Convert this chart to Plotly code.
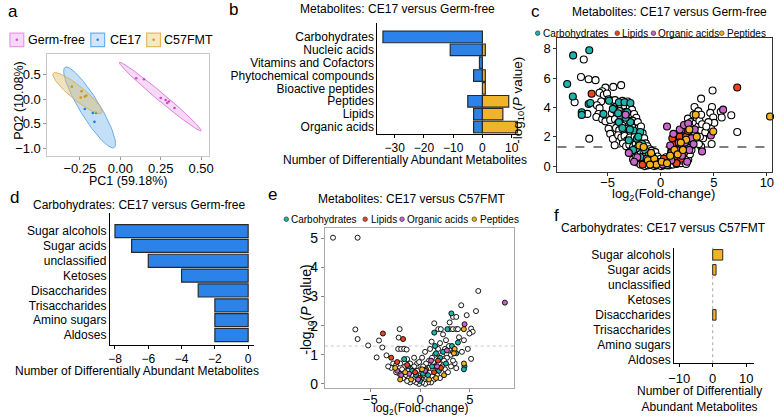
import numpy as np
import plotly.graph_objects as go

W, H = 780, 420
def fx(p): return p / W
def fy(p): return 1 - p / H

FONT = "Liberation Sans, Arial, sans-serif"

# ---------------- Panel a: PCA ----------------
gf_pc1 = [0.098, 0.146, 0.25, 0.28, 0.30, 0.29, 0.335]
gf_pc2 = [0.42, 0.40, 0.02, -0.02, -0.05, -0.08, -0.18]
ce_pc1 = [-0.22, -0.17, -0.15, -0.16]
ce_pc2 = [-0.20, -0.28, -0.28, -0.46]
fmt_pc1 = [-0.30, -0.24, -0.22, -0.245, -0.21]
fmt_pc2 = [0.25, 0.16, 0.05, 0.03, 0.07]
# confidence ellipses: centre x, centre y, major half-vector (x, y), minor half-vector (x, y)
ell_gf = [0.247, 0.05, 0.253, -0.69, -0.0156, -0.062]
ell_ce = [-0.19, -0.17, 0.152, -0.81, -0.052, -0.105]
ell_fmt = [-0.265, 0.12, 0.15, -0.40, -0.027, -0.108]
pca_groups = ["Germ-free", "CE17", "C57FMT"]

# ---------------- Panel b ----------------
b_categories = ["Carbohydrates", "Nucleic acids", "Vitamins and Cofactors",
                "Phytochemical compounds", "Bioactive peptides", "Peptides",
                "Lipids", "Organic acids"]
b_down = [-34, -11, -1, -3, 0, -5, -3, -3]
b_up = [0, 1, 0, 1, 1, 9, 7, 12]

# ---------------- Panel d / f ----------------
carb_categories = ["Sugar alcohols", "Sugar acids", "unclassified", "Ketoses",
                   "Disaccharides", "Trisaccharides", "Amino sugars", "Aldoses"]
d_values = [-8, -7, -6, -4, -3, -2, -2, -2]
f_values = [3, 1, 0, 0, 1, 0, 0, 0]

# ---------------- Panel c volcano (log2FC, -log10 P) ----------------
c_other = [(-7.24,7.27),(-7.5,6.08),(-6.78,5.92),(-6.13,5.86),(-8.1,4.35),(-6.9,3.56),(-6.72,1.87),
 (-5.2,5.35),(-5.5,5.1),(-5.75,5.0),(-5.35,4.85),(-5.05,4.95),(-4.46,5.4),(-3.72,5.52),(-4.9,4.55),
 (-5.6,4.4),(-6.0,4.15),(-5.75,3.95),(-5.85,3.55),(-6.05,3.35),(-5.5,3.2),(-5.2,3.05),(-4.9,2.55),
 (-4.75,2.2),(-4.5,1.85),(-4.33,1.42),(-4.6,3.6),(-4.75,3.15),
 (-4.55,4.45),(-4.3,4.5),(-4.1,4.1),(-3.85,4.25),(-3.6,4.45),(-3.35,4.1),(-3.1,4.4),(-2.9,4.05),
 (-2.7,3.85),(-4.35,3.85),(-4.1,3.5),(-3.85,3.75),(-3.55,3.6),(-3.25,3.7),(-3.0,3.35),(-2.75,3.5),
 (-2.5,3.55),(-2.3,3.3),(-4.3,3.2),(-4.05,2.9),(-3.75,3.05),(-3.45,2.95),(-3.2,3.1),(-2.95,2.8),
 (-2.65,3.1),(-2.4,2.85),(-2.15,3.0),(-4.2,2.6),(-3.9,2.45),(-3.6,2.75),(-3.35,2.4),(-3.1,2.55),
 (-2.85,2.3),(-2.6,2.6),(-2.35,2.4),(-2.05,2.6),(-1.85,2.7),(-4.0,2.1),(-3.7,1.95),(-3.4,2.05),
 (-3.15,1.75),(-2.9,1.95),(-2.7,1.7),(-2.45,2.0),(-2.2,1.8),(-1.95,2.05),(-1.7,2.25),(-3.55,1.55),
 (-3.25,1.35),(-2.95,1.45),(-2.6,1.3),(-2.35,1.5),(-2.05,1.6),(-1.8,1.75),(-1.55,1.9),(-1.4,1.55),
 (-2.85,1.0),(-2.55,0.85),(-2.3,1.05),(-2.0,1.2),(-1.75,1.3),(-1.5,1.2),(-1.25,1.35),(-1.05,1.15),
 (-2.6,0.45),(-2.35,0.6),(-2.1,0.75),(-1.85,0.9),(-1.6,1.0),(-1.35,0.85),(-1.1,0.95),(-0.85,1.05),
 (-2.2,0.25),(-1.95,0.4),(-1.7,0.6),(-1.45,0.65),(-1.2,0.55),(-0.95,0.6),(-0.7,0.8),(-0.5,0.95),
 (-1.9,0.1),(-1.6,0.2),(-1.35,0.3),(-1.05,0.35),(-0.8,0.4),(-0.55,0.55),(-0.3,0.65),(-1.5,0.0),
 (-1.2,0.05),(-0.95,0.1),(-0.7,0.15),(-0.45,0.25),(-0.2,0.35),(0.0,0.5),(-0.6,0.0),(-0.35,0.05),
 (-0.1,0.1),(0.15,0.2),(0.35,0.35),(0.05,0.0),(0.3,0.05),(0.55,0.15),(0.8,0.05),
 (0.5,0.6),(0.75,0.4),(0.95,0.25),(1.15,0.1),(0.9,0.7),(1.1,0.55),(1.3,0.35),(1.5,0.15),(1.0,1.0),
 (1.25,0.85),(1.45,0.6),(1.7,0.45),(1.9,0.2),(1.35,1.2),(1.55,1.0),(1.75,0.75),(1.95,0.6),(2.15,0.35),
 (2.4,0.15),(1.5,1.45),(1.7,1.3),(1.9,1.05),(2.1,0.85),(2.35,0.65),(2.6,0.45),(1.65,1.75),(1.85,1.55),
 (2.05,1.35),(2.3,1.2),(2.5,1.0),(2.75,0.8),(1.8,2.0),(2.0,1.85),(2.2,1.65),(2.45,1.5),(2.7,1.3),
 (2.9,1.1),(2.1,2.2),(2.35,2.05),(2.6,1.85),(2.85,1.65),(3.05,1.45),(2.3,2.5),(2.55,2.35),(2.8,2.15),
 (3.0,1.95),(3.25,1.75),(2.5,2.8),(2.75,2.65),(3.0,2.45),(3.25,2.25),(3.5,2.05),(2.57,3.24),(2.85,3.0),
 (3.03,2.68),(3.3,2.95),(3.55,2.7),(3.8,2.45),(3.19,4.03),(3.1,3.5),(3.4,3.3),(3.65,3.1),(3.9,2.85),
 (3.55,3.75),(3.81,3.5),(3.81,4.6),(3.34,1.67),(3.81,1.33),(3.6,1.5),(4.0,1.9),(3.7,2.0),(4.2,2.3),
 (4.89,5.16),(4.83,4.03),(4.67,3.63),(4.95,3.31),(5.66,3.7),(5.75,3.31),(6.65,3.47),(7.21,2.32),
 (4.74,2.57),(4.8,1.51),(5.05,2.95),(4.5,3.0),(4.3,2.7)]
c_carbs = [(-6.72,7.9),(-8.24,7.55),(-8.8,5.6),(-8.27,4.75),(-6.78,4.23),(-7.43,3.67),(-7.43,3.49),
 (-6.62,4.3),(-5.39,3.56),(-4.86,4.46),(-3.93,4.35),(-3.4,4.35),(-2.85,4.3),(-3.78,3.34),(-3.93,3.0),
 (-3.16,3.67),(-2.85,3.0),(-2.54,2.43),(-1.92,2.32),(-2.23,1.87),(-1.76,1.53),(-3.0,1.76),(-1.46,1.08),
 (-1.14,0.74),(-1.6,0.41),(-0.84,0.18),(-0.21,0.18),(0.4,0.11),(0.6,0.05),(-4.5,3.9),(-3.6,2.6),
 (-2.9,2.5),(-2.3,1.2),(-1.9,0.6),(-1.3,0.3),(-0.5,0.1),(2.5,1.5),(1.3,0.7),(-2.6,1.1),(-3.3,3.3),
 (-4.0,3.6),(-2.1,2.0)]
c_lipids = [(-6.5,4.93),(7.21,5.36),(1.0,0.9),(1.2,1.5),(1.4,0.6),(1.6,1.2),(1.8,2.0),(2.0,1.4),
 (2.2,0.9),(2.4,2.0),(2.6,2.4),(0.7,0.3),(-0.5,0.2),(-1.7,0.1),(1.1,1.9),(0.3,0.5),(1.9,0.5),
 (-0.9,0.4),(2.8,1.7),(1.5,0.2)]
c_organic = [(5.88,3.85),(4.73,2.09),(0.6,2.7),(1.2,2.2),(1.8,2.5),(2.2,2.8),(2.6,2.9),(2.9,1.9),
 (3.1,1.5),(1.5,1.1),(2.0,0.7),(2.5,0.3),(1.0,0.4),(-0.3,0.3),(-1.3,0.5),(-2.2,0.6),(-3.3,3.5),
 (-3.0,0.9),(2.3,1.6),(0.9,1.4),(1.7,1.6),(3.2,2.5),(2.7,1.1),(-0.8,0.7),(-2.5,0.3),(0.2,0.1),(3.9,1.0)]
c_peptides = [(10.3,3.38),(4.95,2.36),(3.3,3.5),(-2.0,1.4),(-1.6,1.3),(-1.2,0.4),(-0.6,0.5),(-0.4,0.1),
 (0.1,0.3),(0.6,0.2),(1.3,1.1),(1.6,0.8),(2.1,1.1),(2.4,1.8),(2.7,2.5),(-0.9,0.9),(0.9,0.7),(3.4,2.0),
 (-1.0,0.1),(1.9,1.6)]

# ---------------- Panel e volcano ----------------
e_other = [(-8.74,5.02),(-6.27,5.02),(-6.5,1.87),(-6.27,1.54),(-5.21,1.32),(-4.13,1.49),(-3.79,1.25),
 (-4.36,0.91),(-3.37,0.98),(-2.05,1.88),(-2.15,1.59),(-2.2,1.2),(-1.9,1.2),(-1.6,1.2),(-1.35,1.18),
 (-2.7,0.7),(-2.4,0.65),(-2.0,0.7),(-1.3,0.85),(-1.0,0.7),(-2.9,0.55),(5.84,3.19),(4.13,2.7),(5.61,2.5),
 (3.3,2.3),(3.63,2.3),(4.68,2.36),(1.42,2.08),(2.97,2.11),(1.82,1.88),(2.08,1.88),(2.97,1.88),(3.3,1.88),
 (3.63,1.88),(3.8,1.88),(5.12,1.9),(5.28,1.79),(4.95,1.73),(1.16,1.45),(4.79,1.2),(5.12,0.86),(3.47,0.71),
 (3.63,0.54),(2.3,1.7),(2.6,1.5),(2.0,1.4),(1.8,1.2),(2.5,1.2),(2.9,1.3),(3.1,1.0),(2.7,0.9),(2.2,1.0),
 (1.5,1.0),(1.2,0.9),(0.9,0.8),(0.6,0.7),(0.3,0.6),(0.0,0.5),(-0.3,0.7),(-0.6,0.6),(-0.9,0.5),(-1.2,0.45),
 (-1.5,0.6),(-1.8,0.5),(-2.1,0.35),(-1.7,0.2),(-1.4,0.3),(-1.1,0.2),(-0.8,0.3),(-0.5,0.2),(-0.2,0.3),
 (0.1,0.15),(0.4,0.3),(0.7,0.2),(1.0,0.4),(1.3,0.5),(1.6,0.6),(1.9,0.7),(2.2,0.6),(2.5,0.5),(2.8,0.4),
 (3.1,0.6),(1.7,0.3),(1.4,0.15),(1.1,0.05),(0.8,0.05),(0.5,0.0),(0.2,0.05),(-0.1,0.0),(-0.4,0.05),
 (-0.7,0.1),(-1.0,0.05),(-1.3,0.1),(-0.3,0.45),(0.2,0.9),(0.5,1.1),(1.0,1.2),(-0.6,0.9),(1.3,0.75),
 (2.0,0.2),(2.4,0.8),(-2.4,0.4),(-3.2,0.6),(4.2,1.1),(3.9,1.6),(4.4,1.5),(3.3,0.8),(0.9,0.55),(-0.1,0.75)]
e_carbs = [(2.74,1.88),(3.14,2.42),(1.42,1.76),(3.8,1.42),(3.63,1.05),(4.46,0.6),(4.4,0.5),(2.6,0.7),
 (2.0,0.9),(1.6,1.05),(1.2,0.6),(0.8,0.3),(0.3,0.35),(-0.4,0.3),(-1.2,0.6),(-1.6,0.85),(1.9,0.45),
 (2.3,1.1),(0.0,0.1),(3.2,1.3),(1.5,1.3),(-0.8,0.45)]
e_lipids = [(-3.73,1.73),(-1.71,1.54),(-2.3,0.75),(-1.3,0.65),(-0.5,0.4),(0.6,0.5),(1.4,0.4),(1.8,0.8),
 (-0.1,0.2),(2.1,0.55),(-2.9,0.9)]
e_organic = [(8.51,2.79),(4.46,2.05),(2.7,1.15),(-2.3,0.45),(-1.9,0.3),(-0.2,0.15),(0.5,0.45),(1.1,0.8),
 (1.7,0.6),(3.3,1.1),(-1.1,0.35)]
e_peptides = [(4.39,1.88),(3.47,1.2),(3.4,1.05),(-2.5,0.55),(-2.0,0.15),(-1.5,0.4),(-0.9,0.15),(0.2,0.5),
 (0.9,0.15),(1.6,0.2),(4.4,0.7),(2.4,0.3)]

class_names = ["Carbohydrates", "Lipids", "Organic acids", "Peptides"]
class_colors = ["#1fb3ad", "#e8471c", "#c765c9", "#f1b21e"]
BLUE = "#2b83ea"
ORANGE = "#f0b42a"
EDGE = "#2a2a2a"

def nz(vals):
    # zero counts draw no bar
    return [v if v != 0 else None for v in vals]

fig = go.Figure()

# ---- a
def ellipse(p):
    t = np.linspace(0, 2 * np.pi, 160)
    cx, cy, ux, uy, vx, vy = p
    return cx + ux * np.cos(t) + vx * np.sin(t), cy + uy * np.cos(t) + vy * np.sin(t)

a_spec = [
    (ell_gf, gf_pc1, gf_pc2, "rgba(232,160,232,0.40)", "rgba(214,120,214,0.9)", "#c94ac9"),
    (ell_ce, ce_pc1, ce_pc2, "rgba(125,185,240,0.45)", "rgba(95,165,230,0.9)", "#1f78e0"),
    (ell_fmt, fmt_pc1, fmt_pc2, "rgba(222,190,110,0.45)", "rgba(215,175,85,0.9)", "#c99a1e"),
]
for (ep, px, py, fill, line, dot), name in zip(a_spec, pca_groups):
    ex, ey = ellipse(ep)
    fig.add_trace(go.Scatter(x=ex, y=ey, mode="lines", fill="toself", fillcolor=fill,
                             line=dict(color=line, width=1), xaxis="x", yaxis="y",
                             showlegend=False, hoverinfo="skip", name=name))
    fig.add_trace(go.Scatter(x=px, y=py, mode="markers", marker=dict(color=dot, size=2.6),
                             xaxis="x", yaxis="y", showlegend=False, name=name))

# ---- b
fig.add_trace(go.Bar(y=b_categories, x=nz(b_down), orientation="h", width=0.9,
                     marker=dict(color=BLUE, line=dict(color=EDGE, width=1.2)),
                     xaxis="x2", yaxis="y2", showlegend=False))
fig.add_trace(go.Bar(y=b_categories, x=nz(b_up), orientation="h", width=0.9,
                     marker=dict(color=ORANGE, line=dict(color=EDGE, width=1.2)),
                     xaxis="x2", yaxis="y2", showlegend=False))

# ---- c and e volcanos
def volcano(ax, ay, other, groups, size, lw):
    fig.add_trace(go.Scatter(x=[p[0] for p in other], y=[p[1] for p in other], mode="markers",
                             marker=dict(color="white", size=size, line=dict(color="black", width=lw)),
                             xaxis=ax, yaxis=ay, showlegend=False, name="Other", cliponaxis=False))
    for pts, col, nm in zip(groups, class_colors, class_names):
        fig.add_trace(go.Scatter(x=[p[0] for p in pts], y=[p[1] for p in pts], mode="markers",
                                 marker=dict(color=col, size=size, line=dict(color="black", width=lw)),
                                 xaxis=ax, yaxis=ay, showlegend=False, name=nm, cliponaxis=False))

volcano("x3", "y3", c_other, [c_carbs, c_lipids, c_organic, c_peptides], 7, 1.1)
volcano("x5", "y5", e_other, [e_carbs, e_lipids, e_organic, e_peptides], 5, 0.9)

# ---- d
fig.add_trace(go.Bar(y=carb_categories, x=nz(d_values), orientation="h", width=0.88,
                     marker=dict(color=BLUE, line=dict(color=EDGE, width=1.2)),
                     xaxis="x4", yaxis="y4", showlegend=False))
# ---- f
fig.add_trace(go.Bar(y=carb_categories, x=nz(f_values), orientation="h", width=0.7,
                     marker=dict(color=ORANGE, line=dict(color=EDGE, width=1.0)),
                     xaxis="x6", yaxis="y6", showlegend=False))

# ---------------- layout ----------------
def dom_x(a, b): return [fx(a), fx(b)]
def dom_y(top, bottom): return [fy(bottom), fy(top)]

def tf(s): return dict(size=s, family=FONT, color="black")

axis_box = dict(showgrid=False, zeroline=False, showline=True, mirror=True, ticks="outside",
                ticklen=3)
axis_open = dict(showgrid=False, zeroline=False, showline=True, mirror=False, ticks="outside",
                 ticklen=3, linecolor="black", linewidth=1, tickcolor="black")

layout = dict(
    width=W, height=H, margin=dict(l=0, r=0, t=0, b=0),
    paper_bgcolor="white", plot_bgcolor="white", barmode="relative",
    font=dict(family=FONT, color="black"), showlegend=False,
    xaxis=dict(axis_box, domain=dom_x(42, 206), anchor="y", range=[-0.451, 0.549],
               tickvals=[-0.25, 0, 0.25, 0.5], tickformat=".2f", linecolor="#c8c8c8",
               tickcolor="#999", tickfont=tf(13), ticklabelstandoff=-2),
    yaxis=dict(axis_box, domain=dom_y(55, 157), anchor="x", range=[-1.14, 0.9],
               tickvals=[-1.0, -0.5, 0, 0.5], tickformat=".1f", linecolor="#c8c8c8",
               tickcolor="#999", tickfont=tf(13)),
    xaxis2=dict(axis_open, domain=dom_x(376.7, 520), anchor="y2", range=[-35.9, 12.4],
                tickvals=[-30, -20, -10, 0, 10], tickfont=tf(12)),
    yaxis2=dict(axis_open, domain=dom_y(23, 135), anchor="x2", type="category",
                categoryorder="array", categoryarray=b_categories, range=[7.52, -1.1],
                tickmode="array", tickvals=b_categories, ticklen=0, tickfont=tf(12)),
    xaxis3=dict(axis_box, domain=dom_x(559.3, 776.7), anchor="y3", range=[-9.72, 10.46],
                tickvals=[-5, 0, 5, 10], linecolor="#333", tickcolor="#333", tickfont=tf(13),
                ticklabelstandoff=-4),
    yaxis3=dict(axis_box, domain=dom_y(38.3, 173.3), anchor="x3", range=[-0.38, 8.74],
                tickvals=[0, 2, 4, 6, 8], linecolor="#333", tickcolor="#333", tickfont=tf(13)),
    xaxis4=dict(axis_open, domain=dom_x(105.3, 251.7), anchor="y4", range=[-8.31, 0.36],
                tickvals=[-8, -6, -4, -2, 0], tickfont=tf(12)),
    yaxis4=dict(axis_open, domain=dom_y(215, 348.3), anchor="x4", type="category",
                categoryorder="array", categoryarray=carb_categories, range=[7.67, -1.22],
                tickmode="array", tickvals=carb_categories, ticklen=0, tickfont=tf(12)),
    xaxis5=dict(axis_box, domain=dom_x(323.3, 515), anchor="y5", range=[-9.57, 9.4],
                tickvals=[-5, 0, 5], linecolor="#a8a8a8", tickcolor="#888", tickfont=tf(13),
                ticklabelstandoff=-4),
    yaxis5=dict(axis_box, domain=dom_y(230, 391.7), anchor="x5", range=[-0.14, 5.36],
                tickvals=[0, 1, 2, 3, 4, 5], linecolor="#a8a8a8", tickcolor="#888",
                tickfont=tf(14)),
    xaxis6=dict(axis_open, domain=dom_x(677.7, 758.3), anchor="y6", range=[-11.5, 12.2],
                tickvals=[-10, 0, 10], tickfont=tf(13)),
    yaxis6=dict(axis_open, domain=dom_y(250, 366.7), anchor="x6", type="category",
                categoryorder="array", categoryarray=carb_categories, range=[7.22, -0.48],
                tickmode="array", tickvals=carb_categories, ticklen=0, tickfont=tf(12)),
)

def txt(s, x, y, size=12, xanchor="center", yanchor="middle", angle=0, family=FONT):
    return dict(text=s, x=fx(x), y=fy(y), xref="paper", yref="paper", showarrow=False,
                font=dict(size=size, family=family, color="black"), xanchor=xanchor,
                yanchor=yanchor, textangle=angle, borderpad=0)

ann = []
# panel letters
for letter, x, y in [("a", 7, 12), ("b", 231, 10), ("c", 537, 12), ("d", 9, 199),
                     ("e", 270, 196), ("f", 558, 218)]:
    ann.append(txt(letter, x, y, size=17))
# titles
ann.append(txt("Metabolites: CE17 versus Germ-free", 397, 9.5))
ann.append(txt("Metabolites: CE17 versus Germ-free", 673, 12))
ann.append(txt("Carbohydrates: CE17 versus Germ-free", 135, 207))
ann.append(txt("Metabolites: CE17 versus C57FMT", 411.7, 200.7))
ann.append(txt("Carbohydrates: CE17 versus C57FMT", 667, 230))
# axis titles
ann.append(txt("PC1 (59.18%)", 124, 183, size=12.5))
ann.append(txt("PC2 (10.08%)", 13, 101, size=12.5, angle=-90))
ann.append(txt("Number of Differentially Abundant Metabolites", 405, 162))
ann.append(txt("log<sub>2</sub>(Fold-change)", 667, 196, size=13))
ann.append(txt("-log<sub>10</sub>(<i>P</i> value)", 519, 101, size=13.5, angle=-90))
ann.append(txt("Number of Differentially Abundant Metabolites", 133, 375))
ann.append(txt("log<sub>2</sub>(Fold-change)", 420, 412.5, size=12))
ann.append(txt("-log<sub>10</sub>(<i>P</i> value)", 305, 313, size=14, angle=-90))
ann.append(txt("Number of Differentially<br>Abundant Metabolites", 703, 403, size=12))

shapes = []
# panel a legend
a_leg = [("Germ-free", 4, 21.7, "#f7d9f7", "#e49be4", "#cf4fcf"),
         ("CE17", 86, 104, "#d2e5f9", "#6aaef0", "#2a7fe0"),
         ("C57FMT", 142.7, 159.5, "#f6e7c6", "#e1ba62", "#d09c1c")]
for name, bx, tx, fc, lc, dc in a_leg:
    shapes.append(dict(type="rect", xref="paper", yref="paper", x0=fx(bx), x1=fx(bx + 14),
                       y0=fy(47), y1=fy(33.5), fillcolor=fc, line=dict(color=lc, width=1.2)))
    shapes.append(dict(type="circle", xref="paper", yref="paper", x0=fx(bx + 5.7), x1=fx(bx + 8.3),
                       y0=fy(41.5), y1=fy(38.9), fillcolor=dc, line=dict(width=0)))
    ann.append(txt(name, tx, 40.5, size=12.5, xanchor="left"))

# volcano legends
def vleg(y, dots, texts):
    for cx, tx, col, nm in zip(dots, texts, class_colors, class_names):
        shapes.append(dict(type="circle", xref="paper", yref="paper", x0=fx(cx - 2.3), x1=fx(cx + 2.3),
                           y0=fy(y + 2.3), y1=fy(y - 2.3), fillcolor=col,
                           line=dict(color="#333", width=0.7)))
        ann.append(txt(nm, tx, y, size=10, xanchor="left"))

vleg(33.5, [539.3, 620, 656.7, 726], [543.5, 624, 660.5, 730])
vleg(221.3, [284.3, 364.3, 401.7, 475], [288.3, 369.5, 406, 479.5])

# significance lines
shapes.append(dict(type="line", xref="x3 domain", yref="y3", x0=0, x1=1, y0=1.3, y1=1.3,
                   line=dict(color="black", width=1.2, dash="dash"), layer="below"))
shapes.append(dict(type="line", xref="x5 domain", yref="y5", x0=0, x1=1, y0=1.3, y1=1.3,
                   line=dict(color="#c8c8c8", width=1, dash="dot"), layer="below"))
shapes.append(dict(type="line", xref="x6", yref="y6 domain", x0=0, x1=0, y0=0, y1=1,
                   line=dict(color="#aaa", width=1, dash="dot"), layer="below"))

layout["annotations"] = ann
layout["shapes"] = shapes
fig.update_layout(**layout)
fig.write_html("out.html", config={"displayModeBar": False},
               post_script="document.body.style.margin='0';")
